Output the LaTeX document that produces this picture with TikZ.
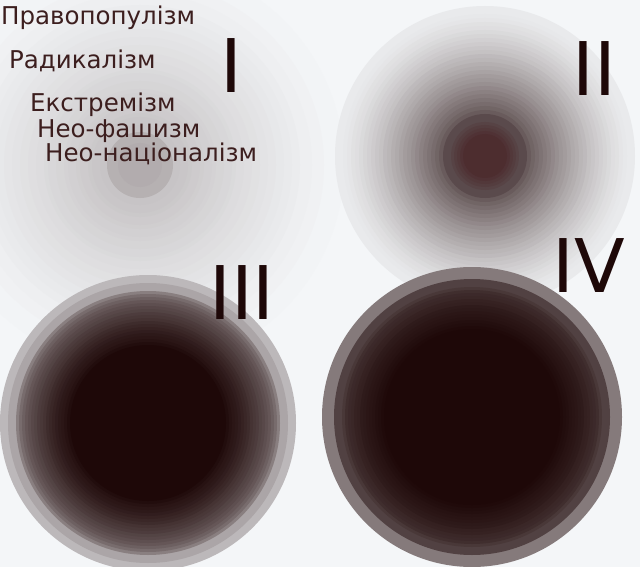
\documentclass[tikz,border=0pt]{standalone}
\usepackage{fontspec}
\setmainfont{DejaVu Sans}
\usepackage{tikz}
\usepackage{xcolor}
\definecolor{bg}{HTML}{F4F6F8}
\definecolor{ink}{HTML}{1E0808}
\definecolor{labelink}{HTML}{3C1E1E}
\definecolor{coregray}{HTML}{5A4A4C}
\definecolor{corered}{HTML}{4A2628}

\begin{document}
\begin{tikzpicture}[x=1pt,y=-1pt,
  term/.style={anchor=base west,text=labelink,font=\fontsize{24.5}{28}\selectfont},
  numeral/.style={anchor=base,text=ink,font=\fontsize{74}{80}\selectfont}]
\tikzstyle{every node}+=[inner sep=0pt]
\fill [bg] (0,0) rectangle (640,567);
\useasboundingbox (0,0) rectangle (640,567);
% circle I
\foreach \r in {204,200,...,38} {
  \pgfmathtruncatemacro{\p}{1+21*((204-\r)/166)^1.4}
  \fill [ink!\p!bg] (140,165) circle (\r);
}
\fill [ink!29!bg] (140,165) circle (33);
\fill [ink!31!bg] (140,165) circle (22);
% circle II
\foreach \r in {150,146,...,46} {
  \pgfmathtruncatemacro{\p}{5+60*((150-\r)/104)^1.4}
  \fill [ink!\p!bg] (485,156) circle (\r);
}
\fill [coregray] (485,156) circle (42);
\foreach \r/\p in {34/20,31/35,28/50,25/65,22/80}
  \fill [corered!\p!coregray] (485,156) circle (\r);
% circle III
\fill [ink!26!bg] (148,423) circle (148);
\fill [ink!34!bg] (148,423) circle (140);
\foreach \r in {132,129,...,78} {
  \pgfmathtruncatemacro{\p}{50+50*((132-\r)/54)^0.6}
  \fill [ink!\p!bg] (148,423) circle (\r);
}
% circle IV
\fill [ink!52!bg] (472,417) circle (150);
\fill [ink!76!bg] (472,417) circle (138);
\foreach \r in {130,127,...,88} {
  \pgfmathtruncatemacro{\p}{80+20*((130-\r)/42)^0.6}
  \fill [ink!\p!bg] (472,417) circle (\r);
}
% labels
\node [term] (populism) at (1,25) {Правопопулізм};
\node [term] (radicalism) at (9,69) {Радикалізм};
\node [term] (extremism) at (30,112) {Екстремізм};
\node [term] (neofascism) at (37,138) {Нео-фашизм};
\node [term] (neonationalism) at (45,162) {Нео-націоналізм};
\node [numeral] (numI) at (231,93) {I};
\node [numeral] (numII) at (594,96) {II};
\node [numeral] (numIII) at (242,319) {III};
\node [numeral] (numIV) at (589,292) {IV};
\end{tikzpicture}
\end{document}
